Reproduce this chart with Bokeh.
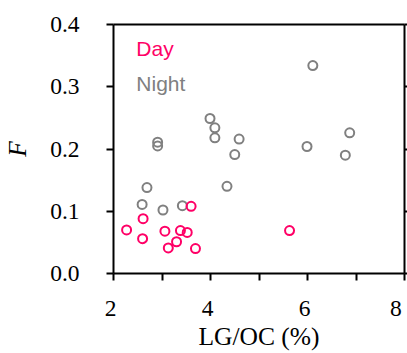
from bokeh.plotting import figure
from bokeh.models import LinearAxis, FixedTicker, PrintfTickFormatter, Label, Range1d
from bokeh.embed import file_html
from bokeh.resources import INLINE

# Data
day_x = [3.60, 2.61, 2.27, 2.60, 3.06, 3.38, 3.52, 3.30, 3.13, 3.69, 5.63]
day_y = [0.108, 0.088, 0.070, 0.056, 0.068, 0.069, 0.066, 0.051, 0.041, 0.040, 0.069]

night_x = [6.11, 3.99, 4.09, 4.09, 4.59, 4.50, 2.91, 2.91, 5.99, 6.87, 6.78,
           2.69, 4.34, 2.59, 3.02, 3.42]
night_y = [0.334, 0.249, 0.234, 0.218, 0.216, 0.191, 0.211, 0.205, 0.204, 0.226, 0.190,
           0.138, 0.140, 0.111, 0.102, 0.109]

x_ticks = [2, 4, 6, 8]
x_tick_labels = ["2", "4", "6", "8"]
x_minor = [3, 5, 7]
y_ticks = [0.0, 0.1, 0.2, 0.3, 0.4]
x_title = "LG/OC (%)"
y_title = "F"

DAY = "#ff0066"
NIGHT = "#808080"
SERIF = "Liberation Serif, serif"
SANS = "Liberation Sans, sans-serif"

p = figure(width=407, height=353, output_backend="svg", toolbar_location=None,
           x_range=Range1d(2, 8), y_range=Range1d(0, 0.4),
           x_axis_location=None, y_axis_location=None,
           min_border_left=113, min_border_top=24, min_border_right=3, min_border_bottom=79)
p.outline_line_color = None
p.grid.visible = False
p.background_fill_color = "white"
p.border_fill_color = "white"

# bottom axis (labels sit slightly left of their ticks, as in the reference)
bx = LinearAxis(ticker=FixedTicker(ticks=x_ticks, minor_ticks=x_minor))
bx.major_label_overrides = {t: lab + "\u00a0" for t, lab in zip(x_ticks, x_tick_labels)}
bx.axis_label = x_title
bx.axis_label_text_font_style = "normal"
# left axis
ly = LinearAxis(ticker=FixedTicker(ticks=y_ticks), formatter=PrintfTickFormatter(format="%.1f"))
ly.axis_label = y_title
ly.axis_label_text_font_style = "italic"

for ax in (bx, ly):
    ax.axis_line_width = 2
    ax.axis_line_color = "black"
    ax.major_tick_line_width = 2
    ax.major_tick_out = 7
    ax.major_tick_in = 0
    ax.minor_tick_line_width = 2
    ax.minor_tick_out = 7
    ax.minor_tick_in = 0
    ax.major_label_text_font = SERIF
    ax.major_label_text_font_size = "23.5px"
    ax.major_label_text_font_style = "normal"
    ax.major_label_text_color = "black"
    ax.axis_label_text_font = SERIF
    ax.axis_label_text_font_size = "25.5px"
    ax.axis_label_text_color = "black"

bx.major_label_standoff = 14
bx.axis_label_standoff = -2
ly.major_label_standoff = 27
ly.axis_label_standoff = 15

p.add_layout(bx, "below")
p.add_layout(ly, "left")

# top and right frame axes
tx = LinearAxis(ticker=FixedTicker(ticks=[]), major_label_text_font_size="0px")
tx.axis_line_width = 2
tx.major_tick_out = 0
tx.minor_tick_out = 0
tx.major_label_standoff = 0
p.add_layout(tx, "above")

ry = LinearAxis(ticker=FixedTicker(ticks=y_ticks), major_label_text_font_size="0px")
ry.axis_line_width = 2
ry.major_tick_line_width = 2
ry.major_tick_out = 3
ry.major_tick_in = 0
ry.minor_tick_out = 0
ry.major_label_standoff = 0
p.add_layout(ry, "right")

p.scatter(night_x, night_y, marker="circle", size=9, fill_color=None,
          line_color=NIGHT, line_width=2)
p.scatter(day_x, day_y, marker="circle", size=9, fill_color=None,
          line_color=DAY, line_width=2)

# legend texts
p.add_layout(Label(x=2.47, y=0.361, text="Day", text_color=DAY, text_font=SANS,
                   text_font_size="21px", text_baseline="middle"))
p.add_layout(Label(x=2.47, y=0.305, text="Night", text_color=NIGHT, text_font=SANS,
                   text_font_size="21px", text_baseline="middle"))

open("out.html", "w").write(file_html(p, INLINE))
